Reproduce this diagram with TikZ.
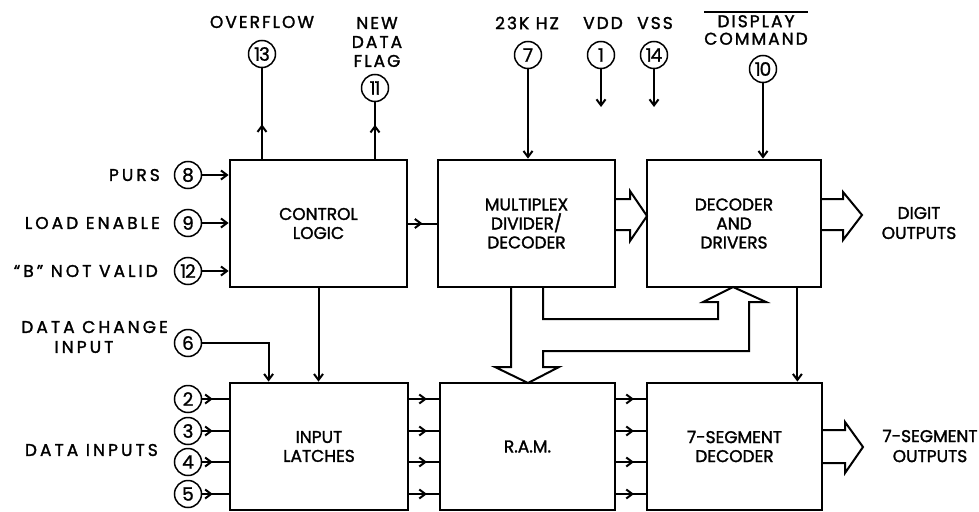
\documentclass[tikz,border=0pt]{standalone}
\usepackage{fontspec}
\setmainfont{Poppins}[FakeBold=1.6]
\newfontfamily\lblfont{Poppins}[LetterSpace=12,FakeBold=1.6]
\newfontfamily\sidefont{Poppins}[LetterSpace=18,FakeBold=1.6]
\newfontfamily\pinfont{Poppins}[LetterSpace=-6,FakeBold=1.2]
\usetikzlibrary{arrows.meta,positioning,decorations.markings,calc}

\tikzset{
  blk/.style={draw, line width=2.8pt, align=center, inner sep=0pt,
    font=\fontsize{17}{19}\selectfont},
  pinc/.style={draw, circle, line width=1.5pt, minimum size=27pt, inner sep=0pt,
    font=\pinfont\fontsize{18.5}{18}\selectfont},
  toplbl/.style={align=center, inner sep=0pt, font=\lblfont\fontsize{17}{19}\selectfont},
  sidelbl/.style={anchor=east, inner sep=0pt, font=\sidefont\fontsize{17}{19}\selectfont},
  wire/.style={line width=2pt},
  conn/.style={wire, -{Straight Barb[length=6pt,width=9pt]}},
  midarrow/.style={postaction={decorate}, decoration={markings,
    mark=at position #1 with {\arrow{Straight Barb[length=6pt,width=9pt]}}}},
  bus/.style={line width=2pt, line join=miter}
}

\begin{document}
\begin{tikzpicture}[x=1pt,y=-1pt]
  \useasboundingbox[fill=white] (0,0) rectangle (979,511);

  % blocks
  \node[blk, minimum width=177pt, minimum height=127pt] (ctl) at (318.5,223.5) {CONTROL\\LOGIC};
  \node[blk, minimum width=177pt, minimum height=127pt] (mux) at (526.5,223.5) {MULTIPLEX\\DIVIDER/\\DECODER};
  \node[blk, minimum width=174pt, minimum height=127pt] (dec) at (734,223.5) {DECODER\\AND\\DRIVERS};
  \node[blk, minimum width=178pt, minimum height=127pt] (lat) at (319,446.5) {INPUT\\LATCHES};
  \node[blk, minimum width=175pt, minimum height=127pt] (ram) at (527.5,446.5) {R.A.M.};
  \node[blk, minimum width=175pt, minimum height=127pt] (seg) at (734.5,446.5) {7-SEGMENT\\DECODER};

  % pins
  \node[pinc] (p13) at (262,54) {13};
  \node[pinc] (p11) at (375,88) {11};
  \node[pinc] (p7) at (528,55) {7};
  \node[pinc] (p1) at (601,55) {1};
  \node[pinc] (p14) at (654,55) {14};
  \node[pinc] (p10) at (763,69) {10};
  \node[pinc] (p8) at (188,175) {8};
  \node[pinc] (p9) at (188,223) {9};
  \node[pinc] (p12) at (188,271) {12};
  \node[pinc] (p6) at (188,343) {6};
  \node[pinc] (p2) at (188,399) {2};
  \node[pinc] (p3) at (188,431) {3};
  \node[pinc] (p4) at (188,462) {4};
  \node[pinc] (p5) at (188,494) {5};

  % labels
  \node[toplbl] (ovf) at (262,22) {OVERFLOW};
  \node[toplbl] (ndf) at (377,42) {NEW\\DATA\\FLAG};
  \node[toplbl] (hz) at (527,23) {23K HZ};
  \node[toplbl] (vdd) at (603,23) {VDD};
  \node[toplbl] (vss) at (655,23) {VSS};
  \node[toplbl, font=\lblfont\fontsize{17}{17.5}\selectfont] (disp) at (756,30) {DISPLAY\\COMMAND};
  \draw[line width=1.4pt] ([yshift=3pt]disp.north west) -- ([yshift=3pt]disp.north east);
  \node[sidelbl] (purs) at (160,175) {PURS};
  \node[sidelbl] (lden) at (160,223) {LOAD ENABLE};
  \node[sidelbl] (bnv) at (158,271) {“B” NOT VALID};
  \node[sidelbl] (dch) at (168,327) {DATA CHANGE};
  \node[sidelbl, anchor=center] (dchin) at (84,347) {INPUT};
  \node[sidelbl] (din) at (158,450) {DATA INPUTS};
  \node[toplbl, font=\fontsize{17}{20}\selectfont] (dout) at (919,223) {DIGIT\\OUTPUTS};
  \node[toplbl, font=\fontsize{17}{20}\selectfont] (sout) at (930,446) {7-SEGMENT\\OUTPUTS};

  % outputs upward
  \draw[wire, midarrow=0.38] (ctl.north -| p13) -- (p13);
  \draw[wire, midarrow=0.6] (ctl.north -| p11) -- (p11);

  % control inputs
  \foreach \p in {p8,p9,p12}
    \draw[conn] (\p) -- (\p -| ctl.west);
  \draw[conn] (p6) -| ([xshift=40pt]lat.north west);
  \draw[conn] (ctl.south) -- (ctl.south |- lat.north);
  \draw[wire, midarrow=0.5] (ctl.east) -- (mux.west);

  % top supplies
  \draw[conn] (p7) -- (p7 |- mux.north);
  \coordinate (vddend) at (601,107);
  \coordinate (vssend) at (654,107);
  \draw[conn] (p1) -- (vddend);
  \draw[conn] (p14) -- (vssend);
  \draw[conn] (p10) -- (p10 |- dec.north);
  \draw[conn] ([xshift=-25pt]dec.south east) -- ([xshift=-25pt]dec.south east |- seg.north);

  % data lines
  \foreach \p in {p2,p3,p4,p5} {
    \draw[wire, midarrow=0.4] (\p) -- (\p -| lat.west);
    \draw[wire, midarrow=0.6] (\p -| lat.east) -- (\p -| ram.west);
    \draw[wire, midarrow=0.6] (\p -| ram.east) -- (\p -| seg.west);
  }

  % wide buses
  \draw[bus] (615,199) -- (630,199) -- (630,191) -- (647,216) -- (630,241) -- (630,230) -- (615,230);
  \draw[bus] (821,199) -- (843,199) -- (843,192) -- (862,215) -- (843,240) -- (843,230) -- (821,230);
  \draw[bus] (822,430) -- (845,430) -- (845,422) -- (863,447) -- (845,473) -- (845,463) -- (822,463);
  \draw[bus] (511,287) -- (511,367) -- (495,367) -- (528,383) -- (559,367) -- (543,367)
    -- (543,351) -- (749,351) -- (749,302) -- (766,302) -- (733,287) -- (703,302)
    -- (718,302) -- (718,319) -- (543,319) -- (543,287);
\end{tikzpicture}
\end{document}
